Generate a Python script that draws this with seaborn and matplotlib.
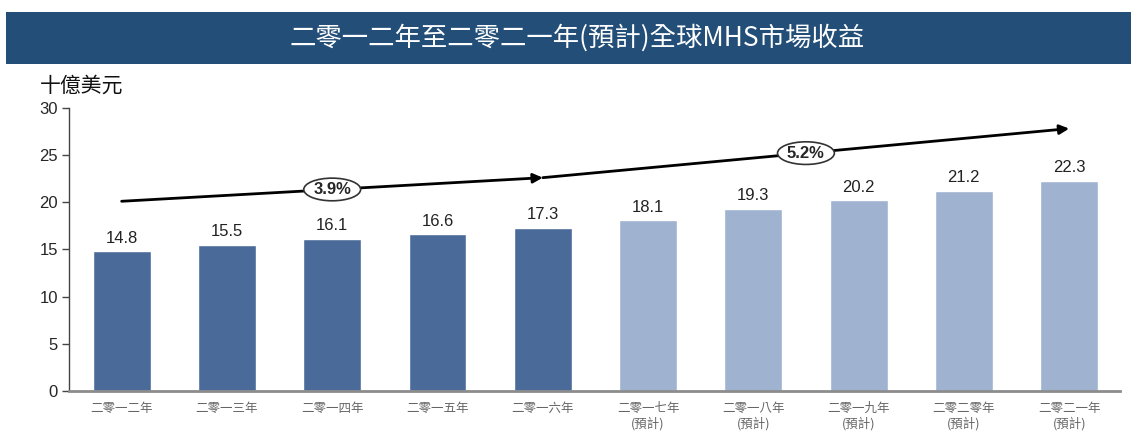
import matplotlib
matplotlib.use("Agg")
import matplotlib.pyplot as plt
from matplotlib.patches import Rectangle, Ellipse
import seaborn as sns
import pandas as pd

# data
years = ["二零一二年", "二零一三年", "二零一四年", "二零一五年", "二零一六年",
         "二零一七年", "二零一八年", "二零一九年", "二零二零年", "二零二一年"]
revenue = [14.8, 15.5, 16.1, 16.6, 17.3, 18.1, 19.3, 20.2, 21.2, 22.3]
forecast = [False] * 5 + [True] * 5
cagr_labels = ["3.9%", "5.2%"]
title = "二零一二年至二零二一年(預計)全球MHS市場收益"
unit = "十億美元"

tick_labels = [y + "\n(預計)" if f else y for y, f in zip(years, forecast)]
df = pd.DataFrame({"year": tick_labels, "revenue": revenue,
                   "kind": ["預計" if f else "實際" for f in forecast]})

sns.set_style("white")
plt.rcParams["font.family"] = ["Noto Sans CJK TC", "DejaVu Sans"]

fig = plt.figure(figsize=(11.31, 4.33), dpi=100)
ax = fig.add_axes([0.061, 0.097, 0.929, 0.654])

sns.barplot(data=df, x="year", y="revenue", hue="kind", dodge=False,
            palette={"實際": "#4a6a9a", "預計": "#9fb3d1"}, width=0.55,
            saturation=1, legend=False, ax=ax)

for c in ax.containers:
    ax.bar_label(c, fmt="%.1f", padding=4, fontsize=12, color="#222222",
                 family=["Liberation Sans", "DejaVu Sans"])

ax.set_xlim(-0.5, 9.48)
ax.set_ylim(0, 30)
ax.set_yticks(range(0, 31, 5))
ax.set_xlabel("")
ax.set_ylabel("")
ax.tick_params(axis="y", length=5, width=1, color="#444444", labelsize=12,
               pad=3, direction="out", left=True)
for lbl in ax.get_yticklabels():
    lbl.set_family(["Liberation Sans", "DejaVu Sans"])
ax.tick_params(axis="x", length=0, labelsize=9, labelcolor="#666666", pad=8)

sns.despine(ax=ax)
ax.spines["left"].set_color("#444444")
ax.spines["left"].set_linewidth(1)
ax.spines["bottom"].set_color("#8c8c8c")
ax.spines["bottom"].set_linewidth(2)

# CAGR arrows
segments = [((0, 20.1), (4.0, 22.6)), ((4.0, 22.6), (9.0, 27.8))]
for (p0, p1), lab in zip(segments, cagr_labels):
    ax.annotate("", xy=p1, xytext=p0,
                arrowprops=dict(arrowstyle="-|>", color="black", lw=2,
                                mutation_scale=14, shrinkA=0, shrinkB=0))
    mx = (p0[0] + p1[0]) / 2
    my = (p0[1] + p1[1]) / 2
    ax.add_patch(Ellipse((mx, my), 0.54, 2.4, facecolor="white",
                         edgecolor="#333333", lw=1.2, zorder=5))
    ax.text(mx, my, lab, ha="center", va="center", fontsize=12,
            fontweight="bold", zorder=6,
            family=["Liberation Sans", "DejaVu Sans"])

# title banner
fig.patches.append(Rectangle((0.005, 0.852), 0.995, 0.12,
                             transform=fig.transFigure, facecolor="#224e78",
                             edgecolor="none", zorder=0))
fig.text(0.51, 0.912, title, color="white", fontsize=19, ha="center",
         va="center")
fig.text(0.035, 0.803, unit, fontsize=15, ha="left", va="center",
         color="#111111")

fig.savefig("out.png", dpi=100)
